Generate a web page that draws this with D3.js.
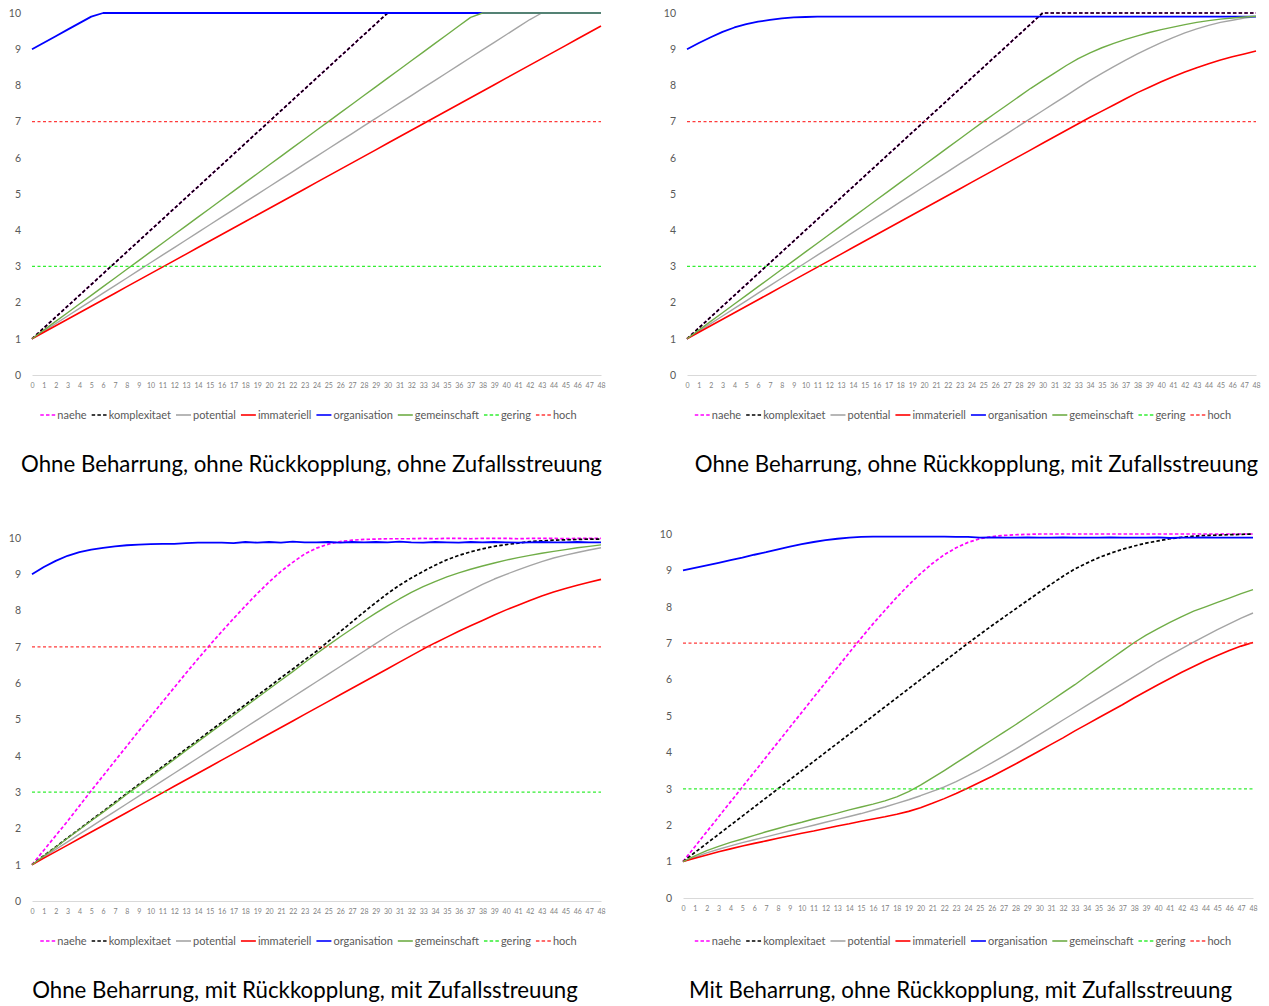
<!DOCTYPE html>
<html>
<head>
<meta charset="utf-8">
<script src="https://cdn.jsdelivr.net/npm/d3@7"></script>
<style>
  html, body { margin: 0; padding: 0; background: #fff; }
  svg { display: block; }
  text { font-family: Lato, "Open Sans", "DejaVu Sans", sans-serif; }
</style>
</head>
<body>
<script>
// ---------------- DATA ----------------
const categories = [0,1,2,3,4,5,6,7,8,9,10,11,12,13,14,15,16,17,18,19,20,21,22,23,24,
  25,26,27,28,29,30,31,32,33,34,35,36,37,38,39,40,41,42,43,44,45,46,47,48];
const yTicks = [0,1,2,3,4,5,6,7,8,9,10];
const seriesNames = ["naehe","komplexitaet","potential","immateriell","organisation","gemeinschaft","gering","hoch"];
const titles = [
  "Ohne Beharrung, ohne Rückkopplung, ohne Zufallsstreuung",
  "Ohne Beharrung, ohne Rückkopplung, mit Zufallsstreuung",
  "Ohne Beharrung, mit Rückkopplung, mit Zufallsstreuung",
  "Mit Beharrung, ohne Rückkopplung, mit Zufallsstreuung"
];

const gering = [3,3,3,3,3,3,3,3,3,3, 3,3,3,3,3,3,3,3,3,3, 3,3,3,3,3,3,3,3,3,3, 3,3,3,3,3,3,3,3,3,3, 3,3,3,3,3,3,3,3,3];
const hoch   = [7,7,7,7,7,7,7,7,7,7, 7,7,7,7,7,7,7,7,7,7, 7,7,7,7,7,7,7,7,7,7, 7,7,7,7,7,7,7,7,7,7, 7,7,7,7,7,7,7,7,7];

// Panel 1: ohne Beharrung, ohne Rückkopplung, ohne Zufallsstreuung
const p1Komplexitaet = [1,1.3,1.6,1.9,2.2,2.5,2.8,3.1,3.4,3.7,
  4,4.3,4.6,4.9,5.2,5.5,5.8,6.1,6.4,6.7,
  7,7.3,7.6,7.9,8.2,8.5,8.8,9.1,9.4,9.7,
  10,10,10,10,10,10,10,10,10,10,
  10,10,10,10,10,10,10,10,10];
const p1Naehe = [1,1.3,1.6,1.9,2.2,2.5,2.8,3.1,3.4,3.7,
  4,4.3,4.6,4.9,5.2,5.5,5.8,6.1,6.4,6.7,
  7,7.3,7.6,7.9,8.2,8.5,8.8,9.1,9.4,9.7,
  10,10,10,10,10,10,10,10,10,10,
  10,10,10,10,10,10,10,10,10];
const p1Potential = [1,1.21,1.42,1.63,1.84,2.05,2.26,2.47,2.68,2.89,
  3.1,3.31,3.52,3.73,3.94,4.15,4.36,4.57,4.78,4.99,
  5.2,5.41,5.62,5.83,6.04,6.25,6.46,6.67,6.88,7.09,
  7.3,7.51,7.72,7.93,8.14,8.35,8.56,8.77,8.98,9.19,
  9.4,9.61,9.82,10,10,10,10,10,10];
const p1Immateriell = [1,1.18,1.36,1.54,1.72,1.9,2.08,2.26,2.44,2.62,
  2.8,2.98,3.16,3.34,3.52,3.7,3.88,4.06,4.24,4.42,
  4.6,4.78,4.96,5.14,5.32,5.5,5.68,5.86,6.04,6.22,
  6.4,6.58,6.76,6.94,7.12,7.3,7.48,7.66,7.84,8.02,
  8.2,8.38,8.56,8.74,8.92,9.1,9.28,9.46,9.64];
const p1Organisation = [9,9.18,9.36,9.54,9.72,9.9,10,10,10,10,
  10,10,10,10,10,10,10,10,10,10,
  10,10,10,10,10,10,10,10,10,10,
  10,10,10,10,10,10,10,10,10,10,
  10,10,10,10,10,10,10,10,10];
const p1Gemeinschaft = [1,1.24,1.48,1.72,1.96,2.2,2.44,2.68,2.92,3.16,
  3.4,3.64,3.88,4.12,4.36,4.6,4.84,5.08,5.32,5.56,
  5.8,6.04,6.28,6.52,6.76,7,7.24,7.48,7.72,7.96,
  8.2,8.44,8.68,8.92,9.16,9.4,9.64,9.88,10,10,
  10,10,10,10,10,10,10,10,10];

// Panel 2: ohne Beharrung, ohne Rückkopplung, mit Zufallsstreuung
const p2Naehe = [1,1.3,1.6,1.9,2.2,2.5,2.8,3.1,3.4,3.7,
  4,4.3,4.6,4.9,5.2,5.5,5.8,6.1,6.4,6.7,
  7,7.3,7.6,7.9,8.2,8.5,8.8,9.1,9.4,9.7,
  10,10,10,10,10,10,10,10,10,10,
  10,10,10,10,10,10,10,10,10];
const p2Komplexitaet = [1,1.3,1.6,1.9,2.2,2.5,2.8,3.1,3.4,3.7,
  4,4.3,4.6,4.9,5.2,5.5,5.8,6.1,6.4,6.7,
  7,7.3,7.6,7.9,8.2,8.5,8.8,9.1,9.4,9.7,
  10,10,10,10,10,10,10,10,10,10,
  10,10,10,10,10,10,10,10,10];
const p2Potential = [1,1.21,1.42,1.63,1.84,2.05,2.26,2.47,2.68,2.89,
  3.1,3.31,3.52,3.73,3.94,4.15,4.36,4.57,4.78,4.99,
  5.2,5.41,5.62,5.83,6.04,6.25,6.46,6.67,6.88,7.09,
  7.3,7.51,7.72,7.93,8.14,8.33,8.52,8.7,8.87,9.03,
  9.18,9.32,9.45,9.56,9.66,9.74,9.8,9.86,9.9];
const p2Immateriell = [1,1.18,1.36,1.54,1.72,1.9,2.08,2.26,2.44,2.62,
  2.8,2.98,3.16,3.34,3.52,3.7,3.88,4.06,4.24,4.42,
  4.6,4.78,4.96,5.14,5.32,5.5,5.68,5.86,6.04,6.22,
  6.4,6.58,6.76,6.94,7.12,7.29,7.46,7.63,7.8,7.95,
  8.1,8.24,8.37,8.49,8.6,8.7,8.79,8.87,8.95];
const p2Organisation = [9,9.17,9.33,9.48,9.6,9.69,9.76,9.81,9.85,9.88,
  9.89,9.9,9.9,9.9,9.9,9.9,9.9,9.9,9.9,9.9,
  9.9,9.9,9.9,9.9,9.9,9.9,9.9,9.9,9.9,9.9,
  9.9,9.9,9.9,9.9,9.9,9.9,9.9,9.9,9.9,9.9,
  9.9,9.9,9.9,9.9,9.9,9.9,9.9,9.9,9.9];
const p2Gemeinschaft = [1,1.24,1.48,1.72,1.96,2.2,2.44,2.68,2.92,3.16,
  3.4,3.64,3.88,4.12,4.36,4.6,4.84,5.08,5.32,5.56,
  5.8,6.04,6.28,6.52,6.76,7,7.23,7.46,7.69,7.92,
  8.13,8.34,8.55,8.74,8.9,9.04,9.16,9.27,9.37,9.46,
  9.54,9.61,9.68,9.74,9.79,9.83,9.86,9.89,9.91];

// Panel 3: ohne Beharrung, mit Rückkopplung, mit Zufallsstreuung
const p3Naehe = [1,1.4,1.8,2.2,2.62,3.04,3.45,3.86,4.27,4.68,
  5.08,5.48,5.88,6.28,6.67,7.05,7.42,7.78,8.13,8.47,
  8.79,9.08,9.33,9.56,9.72,9.83,9.9,9.94,9.96,9.97,
  9.98,9.98,9.98,9.99,9.98,9.99,9.99,9.98,9.99,9.99,
  9.99,9.98,9.99,9.99,9.99,9.98,9.99,9.99,9.99];
const p3Komplexitaet = [1,1.25,1.49,1.74,1.98,2.23,2.47,2.72,2.96,3.21,
  3.45,3.7,3.94,4.19,4.43,4.68,4.92,5.17,5.41,5.66,
  5.9,6.15,6.39,6.64,6.88,7.15,7.42,7.69,7.96,8.22,
  8.47,8.7,8.9,9.08,9.25,9.4,9.52,9.62,9.7,9.77,
  9.82,9.86,9.9,9.92,9.94,9.95,9.96,9.97,9.97];
const p3Potential = [1,1.21,1.42,1.63,1.84,2.05,2.26,2.47,2.68,2.89,
  3.1,3.31,3.52,3.73,3.94,4.15,4.36,4.57,4.78,4.99,
  5.2,5.41,5.62,5.83,6.04,6.25,6.46,6.67,6.88,7.09,
  7.3,7.5,7.69,7.87,8.05,8.22,8.39,8.56,8.72,8.87,
  9,9.12,9.24,9.35,9.45,9.53,9.6,9.67,9.73];
const p3Immateriell = [1,1.18,1.36,1.54,1.72,1.9,2.08,2.26,2.44,2.62,
  2.8,2.98,3.16,3.34,3.52,3.7,3.88,4.06,4.24,4.42,
  4.6,4.78,4.96,5.14,5.32,5.5,5.68,5.86,6.04,6.22,
  6.4,6.58,6.76,6.94,7.11,7.27,7.43,7.58,7.73,7.88,
  8.02,8.15,8.28,8.4,8.51,8.61,8.7,8.78,8.86];
const p3Organisation = [9,9.2,9.37,9.51,9.61,9.68,9.73,9.77,9.8,9.82,
  9.83,9.84,9.84,9.86,9.87,9.87,9.87,9.86,9.89,9.87,
  9.89,9.87,9.9,9.88,9.88,9.89,9.87,9.89,9.88,9.89,
  9.88,9.9,9.88,9.87,9.89,9.88,9.87,9.89,9.88,9.89,
  9.88,9.87,9.88,9.89,9.88,9.88,9.89,9.88,9.88];
const p3Gemeinschaft = [1,1.24,1.48,1.73,1.97,2.21,2.45,2.69,2.94,3.18,
  3.42,3.66,3.9,4.15,4.39,4.63,4.87,5.11,5.36,5.6,
  5.84,6.08,6.32,6.57,6.81,7.05,7.28,7.5,7.72,7.93,
  8.13,8.32,8.5,8.66,8.8,8.93,9.04,9.14,9.23,9.31,
  9.39,9.46,9.52,9.58,9.63,9.68,9.73,9.77,9.81];

// Panel 4: mit Beharrung, ohne Rückkopplung, mit Zufallsstreuung
const p4Naehe = [1,1.41,1.82,2.23,2.64,3.05,3.46,3.87,4.28,4.69,
  5.1,5.51,5.92,6.33,6.74,7.14,7.53,7.9,8.26,8.6,
  8.91,9.19,9.43,9.62,9.77,9.87,9.93,9.96,9.98,9.99,
  10,10,10,10,10,10,10,10,10,10,
  10,10,10,10,10,10,10,10,10];
const p4Komplexitaet = [1,1.25,1.5,1.75,2,2.25,2.5,2.75,3,3.25,
  3.5,3.75,4,4.25,4.5,4.75,5,5.25,5.5,5.75,
  6,6.25,6.5,6.75,7,7.24,7.48,7.71,7.94,8.17,
  8.4,8.62,8.84,9.04,9.2,9.35,9.47,9.58,9.67,9.75,
  9.81,9.87,9.91,9.94,9.96,9.97,9.98,9.99,10];
const p4Potential = [1,1.12,1.24,1.34,1.43,1.52,1.6,1.68,1.76,1.84,
  1.92,2,2.08,2.16,2.24,2.32,2.41,2.5,2.6,2.7,
  2.81,2.93,3.05,3.2,3.36,3.53,3.71,3.9,4.09,4.29,
  4.49,4.69,4.89,5.09,5.29,5.49,5.69,5.89,6.09,6.29,
  6.49,6.67,6.85,7.03,7.2,7.37,7.53,7.69,7.83];
const p4Immateriell = [1,1.09,1.18,1.27,1.35,1.43,1.5,1.57,1.64,1.71,
  1.78,1.84,1.91,1.98,2.04,2.11,2.17,2.23,2.3,2.38,
  2.48,2.6,2.73,2.87,3.02,3.18,3.34,3.51,3.68,3.86,
  4.04,4.22,4.4,4.59,4.77,4.95,5.13,5.31,5.5,5.68,
  5.86,6.03,6.2,6.36,6.52,6.66,6.8,6.92,7.02];
const p4Organisation = [9,9.07,9.14,9.21,9.28,9.35,9.43,9.5,9.58,9.65,
  9.72,9.78,9.83,9.87,9.9,9.92,9.93,9.93,9.93,9.93,
  9.93,9.93,9.93,9.92,9.92,9.9,9.91,9.9,9.9,9.91,
  9.9,9.9,9.91,9.9,9.9,9.9,9.91,9.9,9.9,9.9,
  9.91,9.89,9.9,9.9,9.91,9.9,9.9,9.9,9.9];
const p4Gemeinschaft = [1,1.16,1.3,1.42,1.53,1.62,1.72,1.82,1.91,2,
  2.08,2.17,2.25,2.33,2.42,2.5,2.58,2.67,2.78,2.92,
  3.1,3.3,3.5,3.71,3.92,4.13,4.34,4.55,4.76,4.98,
  5.2,5.42,5.64,5.86,6.1,6.33,6.56,6.79,7.02,7.22,
  7.4,7.57,7.73,7.88,8,8.12,8.24,8.36,8.47];

// ---------------- STYLES ----------------
const styles = {
  naehe:        { color: "#FF00FF", width: 1.7, dash: "3.5,2.2" },
  komplexitaet: { color: "#000000", width: 1.7, dash: "3.5,2.2" },
  potential:    { color: "#A5A5A5", width: 1.4, dash: null },
  immateriell:  { color: "#FF0000", width: 1.6, dash: null },
  organisation: { color: "#0000FF", width: 1.8, dash: null },
  gemeinschaft: { color: "#70AD47", width: 1.4, dash: null },
  gering:       { color: "#33EE33", width: 1.3, dash: "3,2.5" },
  hoch:         { color: "#FF3B3B", width: 1.2, dash: "3,2.5" }
};

const panels = [
  { series: { naehe: p1Naehe, komplexitaet: p1Komplexitaet, potential: p1Potential, immateriell: p1Immateriell,
              organisation: p1Organisation, gemeinschaft: p1Gemeinschaft, gering: gering, hoch: hoch },
    x0: 32, x1: 601, yBottom: 375, yTop: 13, legendY: 415, legendCx: 308.5, title: titles[0], titleCx: 311.5, titleY: 464 },
  { series: { naehe: p2Naehe, komplexitaet: p2Komplexitaet, potential: p2Potential, immateriell: p2Immateriell,
              organisation: p2Organisation, gemeinschaft: p2Gemeinschaft, gering: gering, hoch: hoch },
    x0: 687, x1: 1256, yBottom: 375, yTop: 13, legendY: 415, legendCx: 963, title: titles[1], titleCx: 976.5, titleY: 464 },
  { series: { naehe: p3Naehe, komplexitaet: p3Komplexitaet, potential: p3Potential, immateriell: p3Immateriell,
              organisation: p3Organisation, gemeinschaft: p3Gemeinschaft, gering: gering, hoch: hoch },
    x0: 32, x1: 601, yBottom: 901, yTop: 538, legendY: 941, legendCx: 308.5, title: titles[2], titleCx: 305, titleY: 990 },
  { series: { naehe: p4Naehe, komplexitaet: p4Komplexitaet, potential: p4Potential, immateriell: p4Immateriell,
              organisation: p4Organisation, gemeinschaft: p4Gemeinschaft, gering: gering, hoch: hoch },
    x0: 683, x1: 1253, yBottom: 898, yTop: 534, legendY: 941, legendCx: 963, title: titles[3], titleCx: 960.5, titleY: 990 }
];

// ---------------- DRAW ----------------
const W = 1269, H = 1006;
const svg = d3.select("body").append("svg").attr("width", W).attr("height", H);
svg.append("rect").attr("width", W).attr("height", H).attr("fill", "#fff");

// title font size fitted on the first title
const probe = svg.append("text").attr("font-size", 20).text(titles[0]);
const titleFs = 20 * 581 / probe.node().getComputedTextLength();
probe.remove();

// legend font size fitted to legend width
const legendSym = 15, symGap = 2, itemGap = 5;
const probe2 = svg.append("text").attr("font-size", 10);
let textLen10 = 0;
seriesNames.forEach(n => { probe2.text(n); textLen10 += probe2.node().getComputedTextLength(); });
probe2.remove();
const legendTarget = 537 - seriesNames.length * (legendSym + symGap) - (seriesNames.length - 1) * itemGap;
const legendFs = 10 * legendTarget / textLen10;

panels.forEach(p => {
  const x = d3.scaleLinear().domain([categories[0], categories[categories.length - 1]]).range([p.x0, p.x1]);
  const y = d3.scaleLinear().domain([0, 10]).range([p.yBottom, p.yTop]);
  const g = svg.append("g");

  // x axis
  const xAxis = g.append("g").attr("transform", `translate(0,${p.yBottom})`)
    .call(d3.axisBottom(x).tickValues(categories).tickSize(0).tickSizeOuter(0).tickPadding(8).tickFormat(d3.format("d")));
  xAxis.select(".domain").attr("stroke", "#D9D9D9").attr("stroke-width", 1);
  xAxis.selectAll("text").attr("font-size", 7).attr("fill", "#7F7F7F")
    .attr("font-family", "Lato, 'Open Sans', sans-serif");

  // y axis
  const yAxis = g.append("g").attr("transform", `translate(${p.x0},0)`)
    .call(d3.axisLeft(y).tickValues(yTicks).tickSize(0).tickPadding(11).tickFormat(d3.format("d")));
  yAxis.select(".domain").remove();
  yAxis.selectAll("text").attr("font-size", 10.5).attr("fill", "#595959")
    .attr("font-family", "Lato, 'Open Sans', sans-serif");

  // lines
  const line = d3.line().x((d, i) => x(categories[i])).y(d => y(d));
  seriesNames.forEach(name => {
    const s = styles[name];
    g.append("path")
      .datum(p.series[name])
      .attr("d", line)
      .attr("fill", "none")
      .attr("stroke", s.color)
      .attr("stroke-width", s.width)
      .attr("stroke-linejoin", "round")
      .attr("stroke-dasharray", s.dash);
  });

  // legend
  const lg = g.append("g");
  let cx = 0;
  seriesNames.forEach((name, i) => {
    const s = styles[name];
    const it = lg.append("g").attr("transform", `translate(${cx},0)`);
    it.append("line").attr("x1", 0).attr("x2", legendSym).attr("y1", 0).attr("y2", 0)
      .attr("stroke", s.color).attr("stroke-width", s.dash ? 1.4 : 1.6)
      .attr("stroke-dasharray", s.dash ? "3.5,2.2" : null);
    const t = it.append("text").attr("x", legendSym + symGap).attr("dy", "0.35em")
      .attr("font-size", legendFs).attr("fill", "#595959").text(name);
    cx += legendSym + symGap + t.node().getComputedTextLength() + (i < seriesNames.length - 1 ? itemGap : 0);
  });
  lg.attr("transform", `translate(${p.legendCx - cx / 2},${p.legendY})`);

  // title
  svg.append("text").attr("x", p.titleCx).attr("y", p.titleY).attr("dy", "0.35em")
    .attr("text-anchor", "middle").attr("font-size", titleFs).attr("fill", "#000")
    .text(p.title);
});

// sanity check of array lengths
panels.forEach((p, k) => seriesNames.forEach(n => {
  if (p.series[n].length !== categories.length) throw new Error(`panel ${k+1} ${n} has ${p.series[n].length}`);
}));
</script>
</body>
</html>
